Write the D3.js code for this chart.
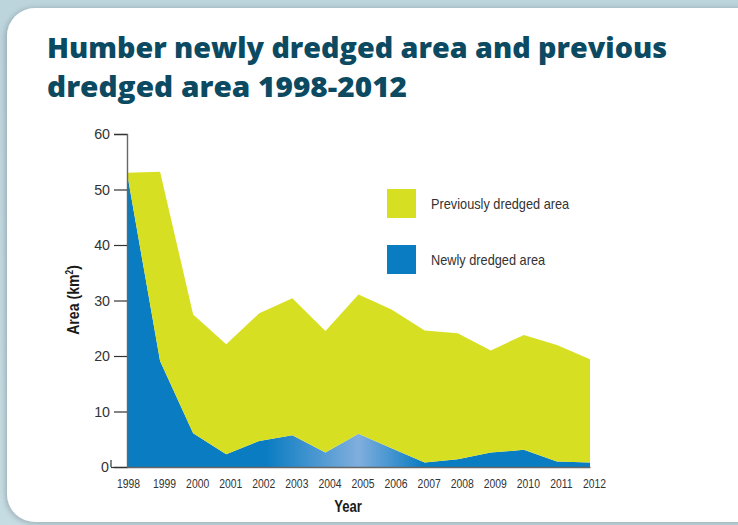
<!DOCTYPE html>
<html>
<head>
<meta charset="utf-8">
<script src="https://cdn.jsdelivr.net/npm/d3@7"></script>
<style>
  html, body { margin: 0; padding: 0; background: #c1d8e0; }
  svg { display: block; }
  .narrow { font-family: "Liberation Sans", Arial, Helvetica, sans-serif; }
</style>
</head>
<body>
<svg id="chart" width="738" height="525"></svg>
<script>
// Humber dredging, area in km²
const years = [1998, 1999, 2000, 2001, 2002, 2003, 2004, 2005, 2006, 2007, 2008, 2009, 2010, 2011, 2012];
const newlyDredged = [53.0, 19.1, 6.1, 2.3, 4.7, 5.7, 2.6, 6.0, 3.4, 0.8, 1.4, 2.6, 3.1, 1.0, 0.8];
const previouslyDredged = [0.0, 34.1, 21.4, 19.8, 23.0, 24.7, 21.9, 25.1, 25.0, 23.8, 22.7, 18.4, 20.7, 21.0, 18.6];
const yTicks = [0, 10, 20, 30, 40, 50, 60];
const seriesNames = ["Newly dredged area", "Previously dredged area"];
const seriesColors = ["#0a7cc2", "#d7df23"];
const titleLines = ["Humber newly dredged area and previous", "dredged area 1998-2012"];

const svg = d3.select("#chart");
const W = 738, H = 525;

// squeeze text horizontally to get a condensed face
function condense(sel, factor) {
  sel.each(function () {
    const len = this.getComputedTextLength();
    d3.select(this).attr("textLength", len * factor).attr("lengthAdjust", "spacingAndGlyphs");
  });
}

// page background and card
const defs = svg.append("defs");
const bg = defs.append("linearGradient").attr("id", "bgGrad").attr("x1", 0).attr("x2", 0).attr("y1", 0).attr("y2", 1);
bg.append("stop").attr("offset", 0).attr("stop-color", "#bcd4dc");
bg.append("stop").attr("offset", 1).attr("stop-color", "#c6dce3");
svg.append("rect").attr("width", W).attr("height", H).attr("fill", "url(#bgGrad)");

const shadow = defs.append("filter").attr("id", "cardShadow").attr("x", -0.05).attr("y", -0.05).attr("width", 1.1).attr("height", 1.1);
shadow.append("feGaussianBlur").attr("in", "SourceAlpha").attr("stdDeviation", 3);
shadow.append("feOffset").attr("dx", -1).attr("dy", 1).attr("result", "ob");
shadow.append("feComponentTransfer").append("feFuncA").attr("type", "linear").attr("slope", 0.25);
const fm = shadow.append("feMerge");
fm.append("feMergeNode");
fm.append("feMergeNode").attr("in", "SourceGraphic");

svg.append("rect")
  .attr("x", 7).attr("y", 8).attr("width", 760).attr("height", 514)
  .attr("rx", 28).attr("ry", 28)
  .attr("fill", "#ffffff")
  .attr("filter", "url(#cardShadow)");

// title
const title = svg.append("text")
  .attr("font-family", "'Open Sans', 'Lato', sans-serif")
  .attr("font-weight", 800)
  .attr("font-size", 28)
  .attr("fill", "#0c4a62");
title.append("tspan").attr("x", 47).attr("y", 58).attr("textLength", 620).attr("lengthAdjust", "spacingAndGlyphs").text(titleLines[0]);
title.append("tspan").attr("x", 47).attr("y", 97).attr("textLength", 360).attr("lengthAdjust", "spacingAndGlyphs").text(titleLines[1]);

// scales
const x = d3.scaleLinear().domain([years[0], years[years.length - 1]]).range([127, 590]);
const y = d3.scaleLinear().domain([0, 60]).range([467, 134]);

// stacked areas
const table = years.map((yr, i) => ({ year: yr, newly: newlyDredged[i], previously: previouslyDredged[i] }));
const stack = d3.stack().keys(["newly", "previously"]);
const layers = stack(table);

// blue fill lightens around the middle years
const bl = defs.append("linearGradient").attr("id", "blueGrad")
  .attr("gradientUnits", "userSpaceOnUse")
  .attr("x1", x(1998)).attr("x2", x(2012)).attr("y1", 0).attr("y2", 0);
[[0, "#0a7cc2"], [0.3, "#0a7cc2"], [0.5, "#80aedd"], [0.64, "#0a7cc2"], [1, "#0a7cc2"]]
  .forEach(([o, c]) => bl.append("stop").attr("offset", o).attr("stop-color", c));

const area = d3.area()
  .x(d => x(d.data.year))
  .y0(d => y(d[0]))
  .y1(d => y(d[1]));

svg.append("g").selectAll("path")
  .data(layers)
  .join("path")
  .attr("d", area)
  .attr("fill", (d, i) => i === 0 ? "url(#blueGrad)" : seriesColors[1]);

// y axis
const yAxis = d3.axisLeft(y).tickValues(yTicks).tickSize(13).tickPadding(4).tickFormat(d3.format("d"));
const gy = svg.append("g").attr("transform", `translate(${x(1998)},0)`).call(yAxis);
gy.select(".domain").attr("stroke", "#666").attr("stroke-width", 1.4);
gy.selectAll(".tick line").attr("stroke", "#333").attr("stroke-width", 1.2);
gy.selectAll(".tick text")
  .attr("class", "narrow")
  .attr("font-size", 15.5)
  .attr("fill", "#333");
gy.selectAll(".tick").filter(d => d === 0).select("line").attr("x2", -16);
gy.selectAll(".tick").filter(d => d === 0).select("text").attr("x", -18);
gy.append("line").attr("x1", -16).attr("x2", -16).attr("y1", y(0) - 7).attr("y2", y(0)).attr("stroke", "#333").attr("stroke-width", 1.2);
condense(gy.selectAll(".tick text"), 0.92);

// x axis
const xAxis = d3.axisBottom(x).tickValues(years).tickSize(0).tickPadding(12).tickFormat(d3.format("d"));
const gx = svg.append("g").attr("transform", `translate(0,${y(0)})`).call(xAxis);
gx.select(".domain").attr("stroke", "#666").attr("stroke-width", 1.4);
gx.selectAll(".tick text")
  .attr("class", "narrow")
  .attr("font-size", 12.5)
  .attr("fill", "#333")
  .attr("dx", (d, i) => i === 0 ? 1 : 4);
condense(gx.selectAll(".tick text"), 0.83);

// axis titles
const xt = svg.append("text").attr("class", "narrow")
  .attr("x", 348).attr("y", 512)
  .attr("text-anchor", "middle")
  .attr("font-weight", 700).attr("font-size", 17).attr("fill", "#1a1a1a")
  .text("Year");
condense(xt, 0.77);

const yt = svg.append("text").attr("class", "narrow")
  .attr("transform", "translate(79,300) rotate(-90) scale(0.83,1)")
  .attr("text-anchor", "middle")
  .attr("font-weight", 700).attr("font-size", 17).attr("fill", "#1a1a1a");
yt.append("tspan").text("Area (km");
yt.append("tspan").attr("font-size", 10).attr("dy", -6).text("2");
yt.append("tspan").attr("dy", 6).text(")");

// legend
const legendItems = [
  { name: seriesNames[1], color: seriesColors[1] },
  { name: seriesNames[0], color: seriesColors[0] }
];
const lg = svg.append("g").attr("transform", "translate(387,189)");
const li = lg.selectAll("g").data(legendItems).join("g")
  .attr("transform", (d, i) => `translate(0,${i * 56})`);
li.append("rect").attr("width", 29).attr("height", 29).attr("fill", d => d.color);
const lt = li.append("text").attr("class", "narrow")
  .attr("x", 44).attr("y", 20)
  .attr("font-size", 15).attr("fill", "#333")
  .text(d => d.name);
condense(lt, 0.85);
</script>
</body>
</html>
